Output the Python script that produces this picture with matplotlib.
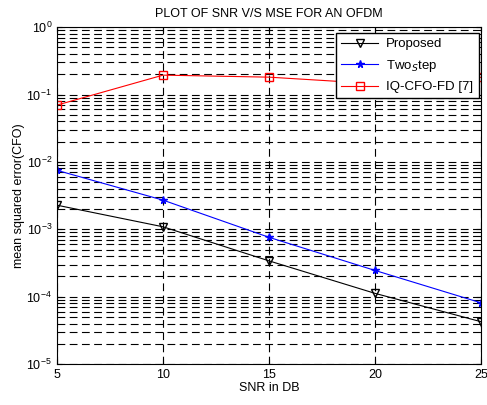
import numpy as np
import matplotlib.pyplot as plt
from matplotlib.ticker import LogLocator, NullFormatter

plt.rcParams['font.family'] = ['Liberation Sans', 'DejaVu Sans']

snr = [5, 10, 15, 20, 25]
proposed = [2.28e-3, 1.09e-3, 3.4e-4, 1.12e-4, 4.25e-5]
two_step = [7.5e-3, 2.71e-3, 7.6e-4, 2.45e-4, 8.1e-5]
iq_cfo = [0.0697, 0.194, 0.181, 0.145, 0.18]


def main():
    fig = plt.figure(figsize=(4.87, 4.05), dpi=100)
    ax = fig.add_axes([0.117, 0.101, 0.871, 0.832])

    ax.semilogy(snr, proposed, color='black', marker='v', mfc='none', ms=5.5, lw=0.8, label='Proposed')
    ax.semilogy(snr, two_step, color='blue', marker='*', ms=5.5, lw=0.8, label='Two$_S$tep')
    ax.semilogy(snr, iq_cfo, color='red', marker='s', mfc='none', ms=5.5, lw=0.8, label='IQ-CFO-FD [7]')

    ax.set_xlim(5, 25)
    ax.set_ylim(1e-5, 1)
    ax.set_xticks([5, 10, 15, 20, 25])
    ax.yaxis.set_major_locator(LogLocator(base=10, numticks=10))
    ax.yaxis.set_minor_locator(LogLocator(base=10, subs=np.arange(2, 10), numticks=20))
    ax.yaxis.set_minor_formatter(NullFormatter())
    ax.tick_params(which='both', direction='in', top=True, right=True, labelsize=9)
    ax.grid(True, which='major', linestyle=(0, (7, 4)), color='black', lw=0.8)
    ax.grid(True, which='minor', axis='y', linestyle=(0, (7, 4)), color='black', lw=0.8)

    ax.set_title('PLOT OF SNR V/S MSE FOR AN OFDM', fontsize=9, pad=7)
    ax.set_xlabel('SNR in DB', fontsize=9, labelpad=1)
    ax.set_ylabel('mean squared error(CFO)', fontsize=9, labelpad=1)

    leg = ax.legend(loc='upper right', fontsize=9.5, fancybox=False, framealpha=1,
                    edgecolor='black', bbox_to_anchor=(0.994, 0.983), borderaxespad=0,
                    handlelength=2.8, handletextpad=0.6, labelspacing=0.55, borderpad=0.4)
    leg.get_frame().set_linewidth(1.0)

    fig.savefig('out.png', dpi=100)


main()
